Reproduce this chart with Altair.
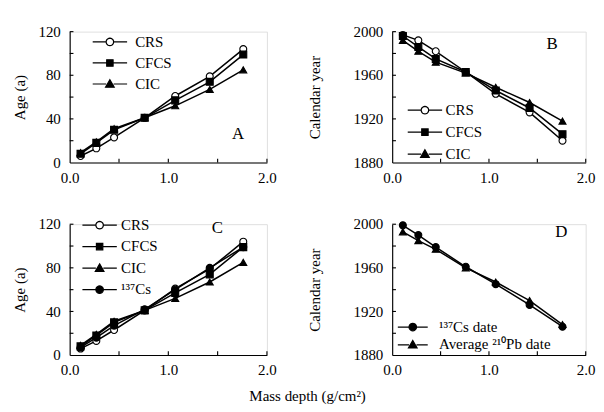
import math
import altair as alt
import pandas as pd

FONT = "Liberation Serif"

# ---- data ----
depth = [0.11, 0.27, 0.45, 0.76, 1.07, 1.42, 1.76]

crs_age = [6, 13, 23, 41, 61, 79, 104]
cfcs_age = [8, 18, 30, 41, 57, 74, 99]
cic_age = [9, 19, 31, 41, 52, 67, 85]
cs_age = [7, 16, 27, 42, 60, 80, 99]

crs_year = [1997, 1992, 1982, 1963, 1943, 1926, 1900]
cfcs_year = [1996, 1986, 1975, 1963, 1946, 1930, 1906]
cic_year = [1992, 1982, 1972, 1962, 1949, 1935, 1918]

cs_year = [1999, 1990, 1979, 1961, 1945, 1926, 1906]
pb_year = [1993, 1985, 1977, 1960, 1947, 1930, 1908]

names3 = ["CRS", "CFCS", "CIC"]
names4 = ["CRS", "CFCS", "CIC", "¹³⁷Cs"]
namesD = ["¹³⁷Cs date", "Average ²¹⁰Pb date"]

age_ticks = [20, 40, 60, 80, 100, 120]
age_labels = [0, 40, 80, 120]
year_ticks = [1900, 1920, 1940, 1960, 1980, 2000]
year_labels = [1880, 1920, 1960, 2000]
x_labels = [0, 1, 2]
x_ticks = [0.5, 1.0, 1.5, 2.0]

# ---- legend symbols: a line through the marker ----
def seg(h):
    return f"M-{h},0H-1M1,0H{h}"

def circ(r=1.0, n=20):
    pts = [(r * math.cos(2 * math.pi * i / n), r * math.sin(2 * math.pi * i / n)) for i in range(n)]
    return "M" + "L".join(f"{x:.3f},{y:.3f}" for x, y in pts) + "Z"

def leg_circle(h):
    return seg(h) + circ(1.0)

def leg_square(h):
    return seg(h) + "M-0.85,-0.85H0.85V0.85H-0.85Z"

def leg_tri(h):
    return seg(h) + "M0,-1.15L1.15,0.85H-1.15Z"


def long_df(names, vals):
    rows = []
    for n, v in zip(names, vals):
        for d, y in zip(depth, v):
            rows.append({"depth": d, "value": y, "series": n})
    return pd.DataFrame(rows)


def panel(names, vals, shapes, fills, legpaths, ydom, ylabs, yticks, ytitle,
          ytpad, leg, letter, lpos, width):
    df = long_df(names, vals)
    xs = alt.Scale(domain=[0, 2], nice=False)
    ys = alt.Scale(domain=ydom, nice=False, zero=False)
    main_x = alt.Axis(values=x_labels, format=".1f", ticks=False, tickSize=0, grid=False,
                      domainColor="black", domainWidth=1.2, labelFont=FONT, labelFontSize=16,
                      labelColor="black", labelPadding=8, labelFlush=False, title=None)
    main_y = alt.Axis(values=ylabs, format="d", ticks=False, tickSize=0, grid=False,
                      domainColor="black", domainWidth=1.2, labelFont=FONT, labelFontSize=16,
                      labelColor="black", labelPadding=10, labelFlush=False, title=ytitle,
                      titleFont=FONT, titleFontSize=16, titleFontWeight="normal",
                      titleColor="black", titlePadding=ytpad)
    X = alt.X("depth:Q", scale=xs, axis=main_x)
    Y = alt.Y("value:Q", scale=ys, axis=main_y)

    lines = alt.Chart(df).mark_line(color="black", strokeWidth=1.6).encode(
        x=X, y=Y, detail="series:N", order="depth:Q",
    )
    pts = alt.Chart(df).mark_point(filled=True, opacity=1, stroke="black", strokeWidth=1.2,
                                   size=55).encode(
        x=X, y=Y,
        shape=alt.Shape("series:N", scale=alt.Scale(domain=names, range=shapes), legend=None),
        fill=alt.Fill("series:N", scale=alt.Scale(domain=names, range=fills), legend=None),
    )
    # inward tick marks
    ytk = pd.DataFrame({"value": yticks, "depth": [0] * len(yticks)})
    xtk = pd.DataFrame({"depth": x_ticks, "value": [ydom[0]] * len(x_ticks)})
    yt = alt.Chart(ytk).mark_rule(color="black", strokeWidth=1.2, x2Offset=4).encode(
        x=X, x2="depth:Q", y=Y)
    xt = alt.Chart(xtk).mark_rule(color="black", strokeWidth=1.2, y2Offset=-4).encode(
        x=X, y=Y, y2="value:Q")

    # panel letter
    lab = alt.Chart(pd.DataFrame({"t": [letter]})).mark_text(
        font=FONT, fontSize=18, color="black", align="center", baseline="middle").encode(
        text="t:N", x=alt.value(lpos[0]), y=alt.value(lpos[1]))

    lx, ly, lo, lrow = leg
    n = len(names)
    legkw = dict(orient="none", legendX=lx, legendY=ly, title=None, symbolSize=64,
                 symbolStrokeWidth=1.3, symbolOpacity=1,
                 labelFont=FONT, labelFontSize=16, labelColor="black", labelOffset=lo,
                 rowPadding=lrow, padding=0)
    legl = alt.Chart(df).transform_filter("false").mark_point(
        filled=True, opacity=1, strokeWidth=1.3, size=64).encode(
        shape=alt.Shape("series:N", scale=alt.Scale(domain=names, range=legpaths),
                        legend=alt.Legend(**legkw)),
        fill=alt.Fill("series:N", scale=alt.Scale(domain=names, range=fills),
                      legend=alt.Legend(**legkw)),
        stroke=alt.Stroke("series:N", scale=alt.Scale(domain=names, range=["black"] * n),
                          legend=alt.Legend(**legkw)),
    )
    return (
        alt.layer(lines, pts, yt, xt, lab, legl)
        .resolve_scale(shape="independent", fill="independent", stroke="independent")
        .properties(width=width, height=140)
    )


H = 4.6
shp3 = ["circle", "square", "triangle-up"]
fill3 = ["white", "black", "black"]
leg3 = [leg_circle(H), leg_square(H), leg_tri(H)]

A = panel(names3, [crs_age, cfcs_age, cic_age], shp3, fill3, leg3,
          [0, 120], age_labels, age_ticks, "Age (a)", 11, (35, 3, 19, 6.5), "A", (180, 110), 211)
B = panel(names3, [crs_year, cfcs_year, cic_year], shp3, fill3, leg3,
          [1880, 2000], year_labels, year_ticks, "Calendar year", 33, (27, 76, 14, 7.5),
          "B", (171, 14), 207)
C = panel(names4, [crs_age, cfcs_age, cic_age, cs_age], shp3 + ["circle"], fill3 + ["black"],
          leg3 + [leg_circle(H)], [0, 120], age_labels, age_ticks, "Age (a)", 11,
          (24, -7, 15, 7), "C", (158, 4), 211)
D = panel(namesD, [cs_year, pb_year], ["circle", "triangle-up"], ["black", "black"],
          [leg_circle(4.0), leg_tri(4.0)], [1880, 2000], year_labels, year_ticks,
          "Calendar year", 33, (14, 102, 20, 3), "D", (181, 9), 207)

chart = (
    alt.vconcat(
        alt.hconcat(A, B, spacing=31),
        alt.hconcat(C, D, spacing=31),
        spacing=32,
    )
    .properties(
        padding={"left": 4, "top": 2, "right": 0, "bottom": 0},
        title=alt.TitleParams("Mass depth (g/cm²)", orient="bottom", anchor="middle",
                              font=FONT, fontSize=16, fontWeight="normal", color="black",
                              offset=12, dx=4),
    )
    .configure_view(stroke=None)
    .configure(background="white")
)

chart.save("out.html", embed_options={"renderer": "svg", "actions": False})
